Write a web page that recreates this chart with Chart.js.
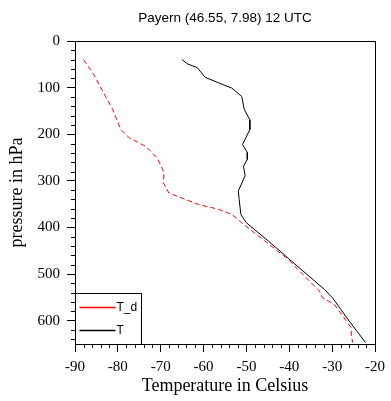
<!DOCTYPE html>
<html>
<head>
<meta charset="utf-8">
<script src="https://cdn.jsdelivr.net/npm/chart.js@4"></script>
<style>body{margin:0;background:#fff}</style>
</head>
<body>
<canvas id="chart" width="391" height="401"></canvas>
<script>
var titleText = 'Payern (46.55, 7.98) 12 UTC';
var seriesLabels = ['T_d', 'T'];
var seriesColors = ['rgb(255,0,0)', 'rgb(0,0,0)'];

// temperature profile (black)
var tempPres = [40, 49, 57, 78, 89, 101, 119, 147, 169, 190, 222, 239, 254, 269, 289, 322, 340, 372, 390, 429, 472, 533, 551, 601, 647];
var tempVals = [-65.0, -63.8, -61.5, -59.6, -56.7, -53.4, -51.1, -50.5, -49.2, -49.2, -50.9, -49.8, -49.8, -50.7, -50.3, -51.9, -51.7, -51.3, -50.0, -44.9, -39.5, -31.8, -29.9, -26.0, -22.2];

// dew point profile (red dashed)
var dewPres = [40, 69, 108, 147, 190, 208, 226, 251, 283, 304, 326, 340, 351, 361, 372, 390, 429, 468, 490, 536, 551, 565, 594, 615, 633, 647];
var dewVals = [-88.0, -85.8, -83.5, -81.2, -79.3, -77.3, -73.5, -70.8, -69.2, -69.4, -68.1, -64.2, -61.1, -56.5, -53.4, -51.1, -45.7, -40.3, -38.0, -33.0, -32.2, -29.5, -27.2, -25.6, -25.5, -25.2];

function toPoints(xs, ys) {
    return xs.map(function(x, i){ return {x: x, y: ys[i]}; });
}

// box frame, minor ticks and the little legend in the lower left corner
var extras = {
    id: 'extras',
    afterDraw: function(chart) {
        var c = chart.ctx, a = chart.chartArea;
        var xs = chart.scales.x, ys = chart.scales.y;
        c.save();
        c.strokeStyle = '#000';
        c.lineWidth = 1;
        c.setLineDash([]);
        c.strokeRect(Math.round(a.left) + 0.5, Math.round(a.top) + 0.5, Math.round(a.right - a.left), Math.round(a.bottom - a.top));

        c.beginPath();
        for (var v = -90; v <= -20; v += 2) {
            if (v % 10 === 0) continue;
            var px = Math.round(xs.getPixelForValue(v)) + 0.5;
            c.moveTo(px, a.bottom);
            c.lineTo(px, a.bottom + 4);
        }
        for (var p = 0; p <= 650; p += 20) {
            if (p % 100 === 0) continue;
            var py = Math.round(ys.getPixelForValue(p)) + 0.5;
            c.moveTo(a.left, py);
            c.lineTo(a.left - 4, py);
        }
        c.stroke();

        // legend box
        var lx = Math.round(a.left) + 0.5, lb = Math.round(a.bottom) + 0.5;
        c.fillStyle = '#fff';
        c.fillRect(lx, lb - 51, 66, 51);
        c.strokeRect(lx, lb - 51, 66, 51);
        c.restore();

        for (var i = 0; i < seriesLabels.length; i++) {
            var ly = lb - 37 + i * 23;
            c.save();
            c.setLineDash([]);
            c.lineWidth = 1.5;
            c.strokeStyle = seriesColors[i];
            c.beginPath();
            c.moveTo(lx + 4, ly);
            c.lineTo(lx + 40, ly);
            c.stroke();
            c.restore();
            c.save();
            c.font = '12px "Liberation Sans"';
            c.textBaseline = 'middle';
            c.fillStyle = '#000';
            c.fillText(seriesLabels[i], lx + 41, ly);
            c.restore();
        }
    }
};

var chart = new Chart(document.getElementById('chart'), {
    type: 'line',
    data: {
        datasets: [{
            label: seriesLabels[0],
            data: toPoints(dewVals, dewPres),
            borderColor: seriesColors[0],
            borderDash: [5, 3],
            borderWidth: 1,
            pointRadius: 0,
            tension: 0,
            fill: false
        }, {
            label: seriesLabels[1],
            data: toPoints(tempVals, tempPres),
            borderColor: seriesColors[1],
            borderWidth: 1,
            pointRadius: 0,
            tension: 0,
            fill: false
        }]
    },
    options: {
        responsive: false,
        animation: false,
        devicePixelRatio: 1,
        layout: { padding: { left: 0, right: 13, top: 0, bottom: 0 } },
        plugins: {
            legend: { display: false },
            tooltip: { enabled: false },
            title: {
                display: true,
                text: titleText,
                fullSize: false,
                color: '#000',
                font: { family: 'Liberation Sans', size: 13.5, weight: 'normal' },
                padding: { top: 10, bottom: 14.8 }
            }
        },
        scales: {
            x: {
                type: 'linear',
                min: -90,
                max: -20,
                afterFit: function(s){ s.height = 57; },
                ticks: {
                    stepSize: 10,
                    maxRotation: 0,
                    color: '#000',
                    padding: 6,
                    font: { family: 'Liberation Serif', size: 15 }
                },
                grid: { drawOnChartArea: false, drawTicks: true, tickLength: 8, color: '#000' },
                border: { display: true, color: '#000' },
                title: {
                    display: true,
                    text: 'Temperature in Celsius',
                    color: '#000',
                    font: { family: 'Liberation Serif', size: 18 },
                    padding: { top: 4, bottom: 4 }
                }
            },
            y: {
                type: 'linear',
                reverse: true,
                min: 0,
                max: 650,
                afterFit: function(s){ s.width = 75; },
                ticks: {
                    stepSize: 100,
                    includeBounds: false,
                    color: '#000',
                    padding: 7,
                    font: { family: 'Liberation Serif', size: 15 }
                },
                grid: { drawOnChartArea: false, drawTicks: true, tickLength: 8, color: '#000' },
                border: { display: true, color: '#000' },
                title: {
                    display: true,
                    text: 'pressure in hPa',
                    color: '#000',
                    font: { family: 'Liberation Serif', size: 18 },
                    padding: { top: 6, bottom: 4 }
                }
            }
        }
    },
    plugins: [extras]
});
</script>
</body>
</html>
